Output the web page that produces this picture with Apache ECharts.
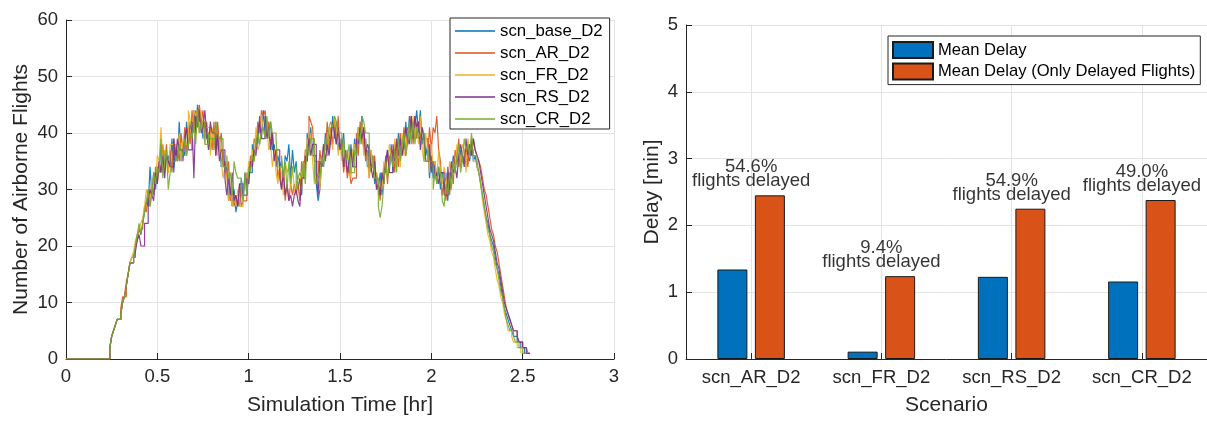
<!DOCTYPE html>
<html>
<head>
<meta charset="utf-8">
<script src="https://cdn.jsdelivr.net/npm/echarts@6/dist/echarts.min.js"></script>
<style>
html,body{margin:0;padding:0;background:#fff;}
#chart{width:1207px;height:421px;}
</style>
</head>
<body>
<div id="chart"></div>
<script>
// ---------- Left chart: airborne flights over time ----------
const timeHr = [0,
0.24,0.25,0.26,0.27,0.28,0.29,0.30,0.31,0.32,0.33,
0.34,0.35,0.36,0.37,0.38,0.39,0.40,0.41,0.42,0.43,
0.44,0.45,0.46,0.47,0.48,0.49,0.50,0.51,0.52,0.53,
0.54,0.55,0.56,0.57,0.58,0.59,0.60,0.61,0.62,0.63,
0.64,0.65,0.66,0.67,0.68,0.69,0.70,0.71,0.72,0.73,
0.74,0.75,0.76,0.77,0.78,0.79,0.80,0.81,0.82,0.83,
0.84,0.85,0.86,0.87,0.88,0.89,0.90,0.91,0.92,0.93,
0.94,0.95,0.96,0.97,0.98,0.99,1.00,1.01,1.02,1.03,
1.04,1.05,1.06,1.07,1.08,1.09,1.10,1.11,1.12,1.13,
1.14,1.15,1.16,1.17,1.18,1.19,1.20,1.21,1.22,1.23,
1.24,1.25,1.26,1.27,1.28,1.29,1.30,1.31,1.32,1.33,
1.34,1.35,1.36,1.37,1.38,1.39,1.40,1.41,1.42,1.43,
1.44,1.45,1.46,1.47,1.48,1.49,1.50,1.51,1.52,1.53,
1.54,1.55,1.56,1.57,1.58,1.59,1.60,1.61,1.62,1.63,
1.64,1.65,1.66,1.67,1.68,1.69,1.70,1.71,1.72,1.73,
1.74,1.75,1.76,1.77,1.78,1.79,1.80,1.81,1.82,1.83,
1.84,1.85,1.86,1.87,1.88,1.89,1.90,1.91,1.92,1.93,
1.94,1.95,1.96,1.97,1.98,1.99,2.00,2.01,2.02,2.03,
2.04,2.05,2.06,2.07,2.08,2.09,2.10,2.11,2.12,2.13,
2.14,2.15,2.16,2.17,2.18,2.19,2.20,2.21,2.22,2.23,
2.24,2.25,2.26,2.27,2.28,2.29,2.30,2.31,2.32,2.33,
2.34,2.35,2.36,2.37,2.38,2.39,2.40,2.41,2.42,2.43,
2.44,2.45,2.46,2.47,2.48,2.49,2.50,2.51,2.52,2.53,
2.54];

const scnBase = [0,
2,4,5,6,7,7,8,10,11,13,
15,17,17,18,20,22,23,22,24,26,
28,27,34,29,33,30,34,33,38,33,
37,35,36,34,39,33,38,35,42,35,
37,36,42,38,42,40,44,40,45,42,
43,39,42,39,40,37,39,39,42,37,
39,34,37,33,34,28,30,27,30,26,
28,27,32,28,33,29,33,33,38,35,
39,38,43,39,44,40,41,40,42,37,
38,34,36,34,35,32,36,35,38,32,
37,33,35,30,32,29,35,35,40,37,
41,36,36,31,28,30,35,34,40,36,
40,38,43,39,42,37,39,37,40,34,
37,33,38,34,39,36,41,40,43,37,
39,34,38,33,36,31,33,30,33,29,
34,33,37,33,38,33,38,35,40,36,
39,37,42,38,43,40,42,41,44,40,
44,38,40,36,38,32,36,32,35,31,
34,30,33,30,33,28,33,32,36,33,
36,34,37,35,36,34,36,35,39,35,
36,34,33,31,29,27,25,24,22,21,
20,18,16,15,13,11,9,8,7,6,
5,4,4,3,3,2,2,1,1];

const scnAR = [0,
2,4,5,6,7,7,9,11,11,13,
15,17,18,18,20,21,23,23,24,27,
26,30,27,31,29,34,31,35,33,38,
33,38,33,37,33,39,36,37,35,40,
36,41,36,41,38,44,40,44,42,45,
42,44,39,42,39,41,37,42,36,42,
38,40,34,35,32,35,28,30,27,29,
27,31,27,28,28,33,31,36,34,39,
38,42,40,44,43,44,40,42,38,40,
36,37,32,34,30,33,28,31,28,31,
29,31,29,31,28,35,32,37,37,43,
42,41,35,35,32,37,34,38,37,42,
37,41,38,42,38,43,37,38,33,36,
32,34,31,32,32,40,36,42,38,41,
35,37,32,37,34,36,30,31,28,33,
31,36,31,36,35,37,33,38,34,40,
36,41,36,41,40,43,38,43,39,42,
39,41,39,39,36,41,37,41,40,43,
37,35,29,31,28,33,29,33,31,37,
35,39,34,36,35,38,34,38,36,39,
37,36,35,34,32,30,29,27,25,23,
22,20,19,17,15,13,11,9,8,7,
6,5,5,4,3,3,2,2,2,1,
1];

const scnFR = [0,
2,4,5,6,7,7,8,10,11,14,
15,17,18,19,21,22,23,24,25,27,
30,29,28,32,32,31,36,35,41,34,
37,36,33,38,38,36,38,37,40,35,
39,38,38,44,42,41,44,43,44,40,
44,41,38,41,41,36,41,37,41,36,
39,35,32,34,32,28,30,27,29,27,
30,27,27,30,31,30,35,34,37,35,
41,37,38,43,41,39,41,37,38,34,
37,33,31,34,33,29,35,33,34,30,
34,30,29,32,32,30,35,34,39,37,
40,35,31,33,31,30,36,35,38,36,
41,39,37,43,41,36,39,35,38,34,
37,35,32,37,38,36,41,39,42,36,
39,35,32,37,34,32,33,29,31,30,
35,34,32,38,36,34,39,34,37,34,
40,36,37,40,41,39,43,39,42,38,
43,37,35,40,37,33,38,34,35,32,
37,33,31,34,32,30,35,33,35,33,
38,34,35,38,37,33,39,37,37,35,
35,34,33,31,28,26,24,22,21,19,
18,16,14,13,11,10,8,7,5,5,
4,3,3,2,2,1];

const scnRS = [0,
2,4,5,6,7,7,8,10,11,13,
15,17,17,18,19,21,22,20,20,24,
24,28,30,29,28,33,31,35,33,36,
32,36,35,34,34,39,35,39,37,37,
35,39,41,37,37,42,32,43,41,44,
40,41,44,40,37,42,40,40,36,40,
35,37,37,32,29,32,29,33,28,29,
27,31,31,29,29,32,31,35,34,37,
36,40,42,39,39,43,39,41,37,40,
35,37,37,32,30,33,29,31,28,29,
27,29,30,28,27,32,32,36,35,39,
36,38,38,33,29,35,34,38,35,38,
36,39,42,40,38,41,37,39,34,37,
33,35,37,34,34,39,38,41,39,41,
36,38,37,34,32,35,30,31,29,33,
31,35,37,33,33,38,35,39,36,39,
36,38,41,39,38,43,39,43,41,42,
37,41,39,35,35,38,33,35,32,33,
31,33,33,29,29,34,30,35,33,34,
32,36,38,36,34,39,36,38,36,39,
37,36,35,33,31,29,27,25,23,22,
21,19,17,16,14,12,10,9,8,7,
6,5,5,4,3,3,2,2,1,1,
1];

const scnCR = [0,
2,4,5,6,7,7,8,10,11,13,
15,17,17,18,20,22,24,22,24,26,
28,30,27,29,33,31,34,33,39,32,
35,37,30,33,35,35,36,35,38,37,
36,39,36,38,40,39,42,38,44,40,
42,42,38,38,40,39,39,37,42,40,
39,39,34,34,36,32,33,29,35,33,
32,32,29,28,33,29,34,33,36,35,
38,40,38,40,41,39,43,39,42,40,
40,39,34,34,36,32,35,30,35,31,
34,34,30,32,33,32,35,31,38,36,
39,39,32,31,33,32,36,34,39,38,
41,42,41,43,42,40,40,36,39,35,
36,38,33,33,37,36,40,38,43,42,
40,40,34,34,36,32,32,27,25,27,
31,35,32,34,36,34,37,33,39,35,
38,40,36,38,42,38,42,38,41,39,
40,40,35,35,37,35,35,30,33,31,
34,33,28,27,31,29,33,30,35,33,
36,38,33,35,39,37,38,36,40,36,
36,35,33,31,29,27,25,23,22,20,
19,17,16,14,12,11,9,7,6,5,
5,4,3,3,2,2,1,1,1];

const lineNames = ['scn_base_D2','scn_AR_D2','scn_FR_D2','scn_RS_D2','scn_CR_D2'];
const lineValues = [scnBase, scnAR, scnFR, scnRS, scnCR];
const lineColors = ['#0072BD','#D95319','#EDB120','#7E2F8E','#77AC30'];

// ---------- Right chart: delays ----------
const scenarios = ['scn_AR_D2','scn_FR_D2','scn_RS_D2','scn_CR_D2'];
const meanDelay = [1.34, 0.11, 1.23, 1.16];
const meanDelayDelayed = [2.45, 1.24, 2.25, 2.38];
const pctDelayed = [54.6, 9.4, 54.9, 49.0];

const FONT = '"Liberation Sans", Arial, Helvetica, sans-serif';
const TXT = '#262626';
const GRIDC = '#e3e3e3';

const chart = echarts.init(document.getElementById('chart'), null, {renderer:'canvas'});

function axisCommon(){
  return {
    axisLine:{show:true, lineStyle:{color:TXT, width:1}},
    axisTick:{show:true, inside:true, length:6, lineStyle:{color:TXT}},
    axisLabel:{color:TXT, fontSize:18.5, fontFamily:FONT},
    splitLine:{show:true, lineStyle:{color:GRIDC, width:1}},
    nameTextStyle:{color:TXT, fontSize:21, fontFamily:FONT},
    nameLocation:'middle'
  };
}

const lineSeries = lineNames.map((n, k) => ({
  name:n, type:'line', xAxisIndex:0, yAxisIndex:0,
  step:'end', symbol:'none', showSymbol:false,
  lineStyle:{color:lineColors[k], width:1.2, opacity:0.9},
  itemStyle:{color:lineColors[k]},
  data: lineValues[k].map((v,i)=>[timeHr[i], v]),
  animation:false
}));

const option = {
  animation:false,
  backgroundColor:'#fff',
  textStyle:{fontFamily:FONT},
  grid:[
    {left:66, right:593, top:20, bottom:58},
    {left:686, right:-4, top:25, bottom:56}
  ],
  xAxis:[
    Object.assign(axisCommon(), {
      type:'value', gridIndex:0, min:0, max:3, interval:0.5,
      name:'Simulation Time [hr]', nameGap:36
    }),
    Object.assign(axisCommon(), {
      type:'category', gridIndex:1, data:scenarios,
      axisTick:{show:true, inside:true, length:6, alignWithLabel:true, lineStyle:{color:TXT}},
      splitLine:{show:true, alignWithLabel:true, lineStyle:{color:GRIDC, width:1}},
      axisLabel:{color:TXT, fontSize:18.5, fontFamily:FONT, interval:0, margin:9},
      name:'Scenario', nameGap:36
    })
  ],
  yAxis:[
    Object.assign(axisCommon(), {
      type:'value', gridIndex:0, min:0, max:60, interval:10,
      name:'Number of Airborne Flights', nameGap:34
    }),
    Object.assign(axisCommon(), {
      type:'value', gridIndex:1, min:0, max:5, interval:1,
      name:'Delay [min]', nameGap:23
    })
  ],
  legend:[
    {
      data:lineNames, orient:'vertical', left:450, top:18,
      icon:'rect', itemWidth:40, itemHeight:1.5, itemGap:4,
      padding:[4,7,1,5],
      borderColor:TXT, borderWidth:1, backgroundColor:'#fff',
      textStyle:{fontSize:16.8, lineHeight:18, color:'#000', fontFamily:FONT},
      selectedMode:false
    },
    {
      data:['Mean Delay','Mean Delay (Only Delayed Flights)'],
      orient:'vertical', left:888, top:36,
      icon:'rect', itemWidth:40, itemHeight:16, itemGap:3.6,
      padding:[5,5,4,4],
      borderColor:TXT, borderWidth:1, backgroundColor:'#fff',
      textStyle:{fontSize:16.6, lineHeight:17, color:'#000', fontFamily:FONT},
      selectedMode:false
    }
  ],
  series: lineSeries.concat([
    {
      name:'Mean Delay', type:'bar', xAxisIndex:1, yAxisIndex:1,
      barWidth:30, barGap:'25%',
      itemStyle:{color:'#0072BD', borderColor:'#1a1a1a', borderWidth:1},
      data:meanDelay
    },
    {
      name:'Mean Delay (Only Delayed Flights)', type:'bar', xAxisIndex:1, yAxisIndex:1,
      barWidth:30, barGap:'25%',
      itemStyle:{color:'#D95319', borderColor:'#1a1a1a', borderWidth:1},
      data:meanDelayDelayed
    },
    {
      name:'annot', type:'scatter', xAxisIndex:1, yAxisIndex:1,
      symbolSize:0, silent:true, z:5,
      data: pctDelayed.map((p,i)=>({
        value:[i, meanDelayDelayed[i]],
        label:{
          show:true, position:'top', distance:7,
          formatter: p.toFixed(1) + '%\nflights delayed',
          fontSize:18.5, lineHeight:14, color:'#000', fontFamily:FONT, align:'center'
        }
      }))
    }
  ])
};
chart.setOption(option);
</script>
</body>
</html>
